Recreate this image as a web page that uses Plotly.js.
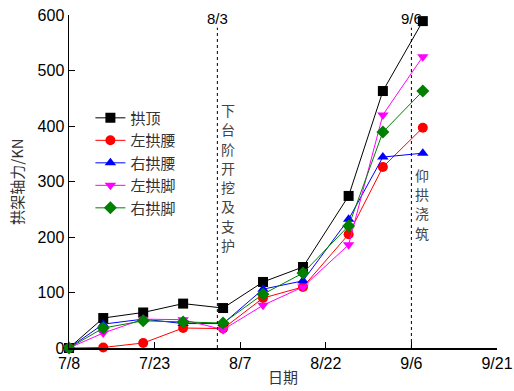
<!DOCTYPE html>
<html><head><meta charset="utf-8">
<script src="https://cdn.plot.ly/plotly-3.0.1.min.js"></script>
<style>body{margin:0;background:#fff}#c{width:514px;height:391px}</style>
</head><body><div id="c"></div>
<script>
const dates = ['2016-07-08','2016-07-14','2016-07-21','2016-07-28','2016-08-04','2016-08-11','2016-08-18','2016-08-26','2016-09-01','2016-09-08'];
const names = ['拱顶','左拱腰','右拱腰','左拱脚','右拱脚'];
const gongDing   = [0, 54, 64, 80, 72, 119, 146, 274, 463, 589];
const zuoGongYao = [0, 1, 9, 36, 35, 90, 110, 205, 326, 397];
const youGongYao = [0, 43, 52, 44, 44, 106, 121, 232, 344, 351];
const zuoGongJiao= [0, 27, 52, 51, 33, 77, 110, 186, 420, 525];
const youGongJiao= [0, 36, 49, 47, 45, 97, 135, 220, 389, 463];
const series = [gongDing, zuoGongYao, youGongYao, zuoGongJiao, youGongJiao];
const colors = ['#000000','#ff0000','#0000ff','#ff00ff','#008000'];
const symbols = ['square','circle','triangle-up','triangle-down','diamond'];
const tickVals = ['2016-07-08','2016-07-23','2016-08-07','2016-08-22','2016-09-06','2016-09-21'];
const tickText = ['7/8','7/23','8/7','8/22','9/6','9/21'];
const eventDates = ['2016-08-03','2016-09-06'];
const eventLabels = ['8/3','9/6'];
const eventTexts = ['下台阶开挖及支护','仰拱浇筑'];
const eventTextTop = [0.715, 0.52];

const traces = series.map((s,i)=>({
  x: dates, y: s, name: names[i], type:'scatter', mode:'lines+markers',
  line:{color:colors[i], width:1},
  marker:{symbol:symbols[i], color:colors[i], size:10},
  cliponaxis:false
}));

const shapes = eventDates.map(d=>({type:'line', xref:'x', yref:'paper', x0:d, x1:d, y0:0, y1:0.962,
  line:{color:'#000', width:1, dash:'dot'}}));
const annotations = [];
eventDates.forEach((d,i)=>{
  annotations.push({x:d, y:1.0, xref:'x', yref:'paper', text:eventLabels[i], showarrow:false,
    xanchor:'center', yanchor:'bottom', yshift:-14, font:{family:'Liberation Sans, Arial', size:15, color:'#000'}});
  Array.from(eventTexts[i]).forEach((ch,k)=>{
    annotations.push({x:d, y:eventTextTop[i] - k*0.058, xref:'x', yref:'paper', text:ch, showarrow:false,
      xanchor:'center', yanchor:'middle', xshift:11, font:{family:'Noto Sans CJK SC', size:14, color:'#444'}});
  });
});

const layout = {
  width:514, height:391,
  margin:{l:69, r:17, t:15, b:43},
  paper_bgcolor:'#fff', plot_bgcolor:'#fff',
  showlegend:true,
  legend:{x:0.05, y:0.74, xanchor:'left', yanchor:'top', bgcolor:'rgba(0,0,0,0)',
    font:{family:'Noto Sans CJK SC', size:15, color:'#333'}, tracegroupgap:0},
  xaxis:{type:'date', range:['2016-07-08','2016-09-21'], tickvals:tickVals, ticktext:tickText,
    showgrid:false, zeroline:false, showline:true, linecolor:'#000', linewidth:1.5,
    ticks:'inside', ticklen:6, tickcolor:'#000',
    tickfont:{family:'Liberation Sans, Arial', size:16, color:'#000'},
    title:{text:'日期', font:{family:'Noto Sans CJK SC', size:15, color:'#333'}, standoff:2}},
  yaxis:{range:[0,600], tickvals:[0,100,200,300,400,500,600],
    showgrid:false, zeroline:false, showline:true, linecolor:'#000', linewidth:1.5,
    ticks:'inside', ticklen:6, tickcolor:'#000',
    tickfont:{family:'Liberation Sans, Arial', size:16, color:'#000'},
    title:{text:'拱架轴力/KN', font:{family:'Noto Sans CJK SC', size:15, color:'#333'}, standoff:10}},
  shapes: shapes,
  annotations: annotations
};
Plotly.newPlot('c', traces, layout, {displayModeBar:false, staticPlot:true});
</script></body></html>
